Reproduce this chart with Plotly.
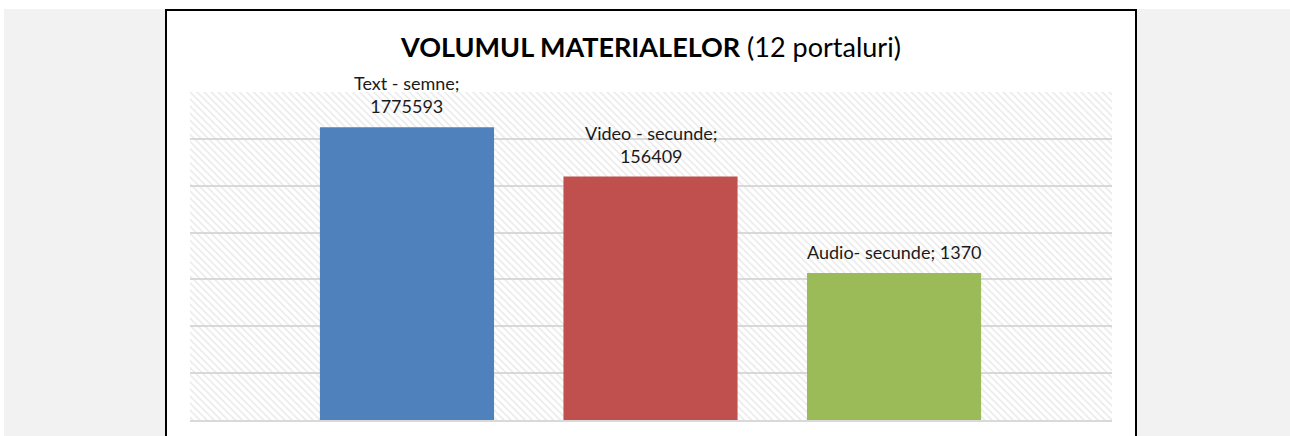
import math
import plotly.graph_objects as go

# date
categorii = ["Text - semne", "Video - secunde", "Audio- secunde"]
valori = [1775593, 156409, 1370]
separatori = [";<br>", ";<br>", "; "]
culori = ["#4f81bd", "#c0504d", "#9bbb59"]

W, H = 1290, 436
ML, MR, MT, MB = 190, 178, 92, 16
PW, PH = W - ML - MR, H - MT - MB


def px_x(p):
    # pixel orizontal -> coordonata paper
    return (p - ML) / PW


def px_y(p):
    # pixel vertical -> coordonata paper
    return (H - MB - p) / PH


x_range = [-0.891, 2.895]

fig = go.Figure()

# fundal hasurat al zonei de plotare
fig.add_trace(go.Bar(
    x=[categorii[1]], y=[1e7],
    width=[x_range[1] - x_range[0]],
    offset=x_range[0] - 1,
    marker=dict(color="rgba(0,0,0,0)", line_width=0,
                pattern=dict(shape="\\", fgcolor="#d4d4d4", size=5, solidity=0.3)),
    hoverinfo="skip", showlegend=False,
))

fig.add_trace(go.Bar(
    x=categorii, y=valori,
    width=0.715,
    marker=dict(color=culori, line_width=0),
    hoverinfo="skip", showlegend=False,
))

for cat, val, sep in zip(categorii, valori, separatori):
    fig.add_annotation(
        x=cat, y=math.log10(val),
        text=f"{cat}{sep}{val}",
        showarrow=False, yanchor="bottom", yshift=8,
        font=dict(family="Lato", size=18, color="#1a1a1a"),
    )

shapes = [
    # margini gri ale paginii
    dict(type="rect", xref="paper", yref="paper", x0=px_x(4), x1=px_x(165),
         y0=px_y(9), y1=px_y(440), fillcolor="#f2f2f2", line_width=0, layer="below"),
    dict(type="rect", xref="paper", yref="paper", x0=px_x(1137), x1=px_x(W + 5),
         y0=px_y(9), y1=px_y(440), fillcolor="#f2f2f2", line_width=0, layer="below"),
    # chenarul graficului
    dict(type="rect", xref="paper", yref="paper", x0=px_x(166), x1=px_x(1136),
         y0=px_y(10), y1=px_y(445), line=dict(color="black", width=2)),
]

fig.update_layout(
    width=W, height=H,
    margin=dict(l=ML, r=MR, t=MT, b=MB),
    paper_bgcolor="white", plot_bgcolor="white",
    barmode="overlay",
    title=dict(text="<b>VOLUMUL MATERIALELOR</b> (12 portaluri)",
               x=0.5, xref="paper", xanchor="center",
               y=1 - 48 / H, yanchor="middle",
               font=dict(family="Lato", size=27, color="black")),
    shapes=shapes,
    xaxis=dict(range=x_range, categoryorder="array", categoryarray=categorii,
               showticklabels=False, showgrid=False, zeroline=False,
               showline=True, linecolor="#d9d9d9", linewidth=2, ticks=""),
    yaxis=dict(type="log", range=[0, 7], dtick=1, showticklabels=False,
               showgrid=True, gridcolor="#d9d9d9", gridwidth=2,
               zeroline=False, ticks=""),
)

# fara marginea implicita a paginii
fig.write_html("out.html", config={"displayModeBar": False},
               post_script="document.body.style.margin='0';")
